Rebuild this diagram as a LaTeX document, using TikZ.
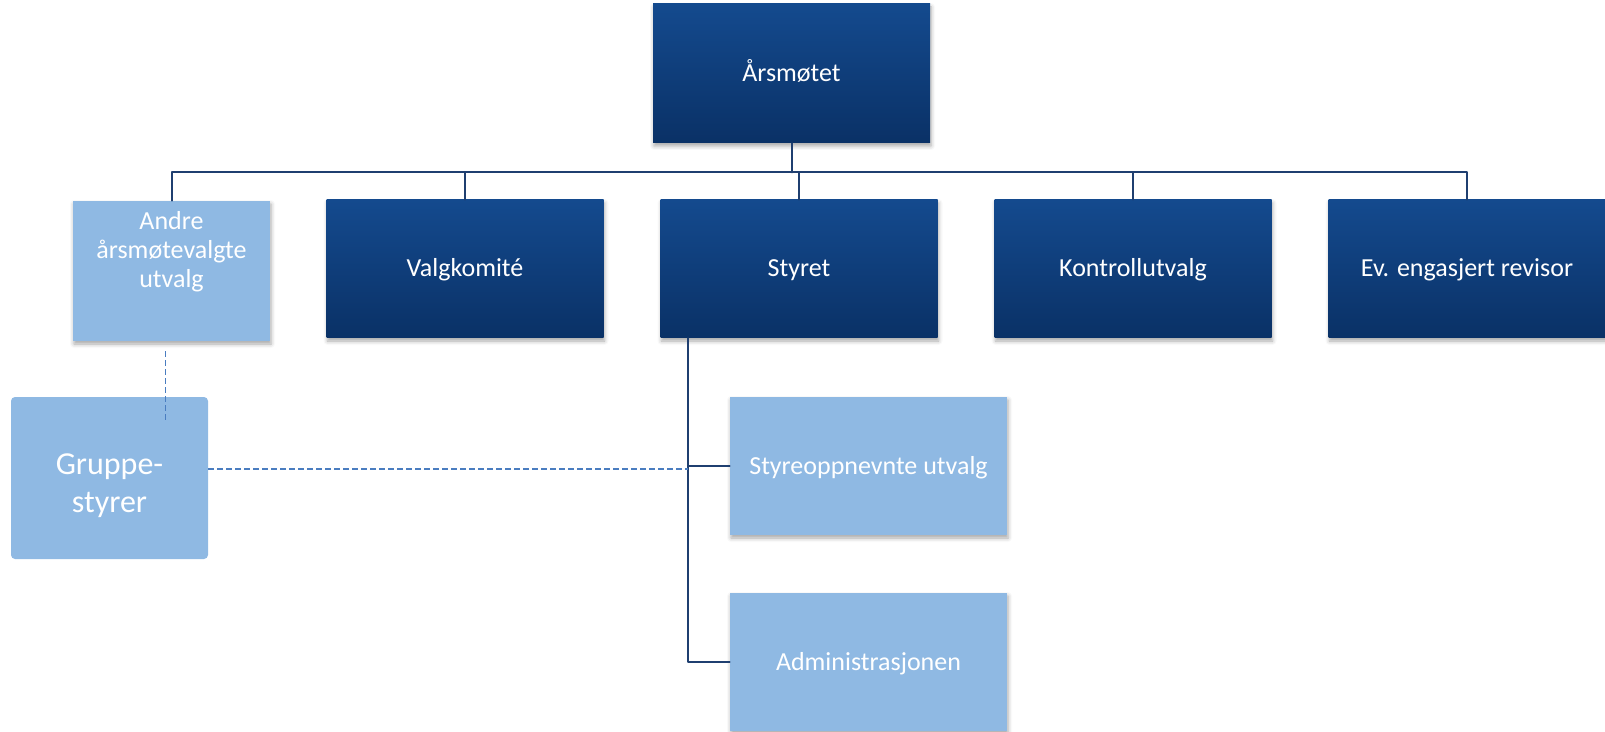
\documentclass[tikz,border=0pt]{standalone}
\usepackage{fontspec}
\setmainfont{Carlito}
\usetikzlibrary{calc,shadows.blur}
\definecolor{mork}{RGB}{20,74,142}
\definecolor{morkbunn}{RGB}{10,49,102}
\definecolor{lys}{RGB}{143,185,227}
\definecolor{linje}{RGB}{31,63,112}
\definecolor{stiplet}{RGB}{74,125,192}
\begin{document}
\begin{tikzpicture}[x=0.5pt,y=-0.5pt,line join=round,line cap=round]
\tikzset{every node/.style={font=\fontsize{13}{14.5}\selectfont,text=white,align=center,inner sep=0pt},
skygge/.style={blur shadow={shadow xshift=0.5pt,shadow yshift=-1.5pt,shadow blur radius=2pt,shadow opacity=35}},
enlinje/.style={text height=10pt,text depth=2pt},
mbox/.style={top color=mork,bottom color=morkbunn,minimum width=138.5pt,minimum height=69pt,enlinje,skygge},
lbox/.style={fill=lys,minimum width=138.5pt,minimum height=69pt,skygge},
conn/.style={draw=linje,line width=1pt},
dashline/.style={draw=stiplet,line width=0.7pt,line cap=butt,dash pattern=on 3pt off 1.5pt}}
\useasboundingbox (0,0) rectangle (1605,732);
\node[mbox,minimum height=69.5pt] (aarsmote) at (791.5,73.5) {Årsmøtet};
\node[lbox,minimum width=98.5pt,minimum height=70pt] (andre) at (171.5,271) {\parbox[c][70pt][t]{98pt}{\centering\vspace*{5pt}Andre\\årsmøtevalgte\\utvalg}};
\node[mbox] (valg) at (465,269) {Valgkomité};
\node[mbox] (styret) at (799,269) {Styret};
\node[mbox] (kontroll) at (1133,269) {Kontrollutvalg};
\node[mbox] (revisor) at (1467,269) {Ev. engasjert revisor};
\node[lbox,enlinje] (utvalg) at (868.5,466) {Styreoppnevnte utvalg};
\node[lbox,enlinje] (admin) at (868.5,662) {Administrasjonen};
\node[fill=lys,rounded corners=2pt,minimum width=98.5pt,minimum height=81pt,font=\fontsize{16}{19}\selectfont] (gruppe) at (109.5,478) {\parbox[c][81pt][c]{98pt}{\centering\vspace*{8pt}Gruppe-\\styrer}};
\draw[conn] (aarsmote.south) -- ++(0,29) coordinate (bus);
\foreach \n in {andre,valg,styret,kontroll,revisor}
\draw[conn] (bus) -| (\n.north);
\coordinate (stem) at ($(styret.south west)+(28,0)$);
\draw[conn] (stem) |- (utvalg.west);
\draw[conn] (stem) |- (admin.west);
\coordinate (al) at ($(andre.south)+(-6,10)$);
\draw[dashline] (al) -- ($(al |- gruppe.north)+(0,25)$);
\coordinate (gl) at ($(gruppe.east)+(0,-9)$);
\draw[dashline] (gl) -- (gl -| stem);
\end{tikzpicture}
\end{document}
